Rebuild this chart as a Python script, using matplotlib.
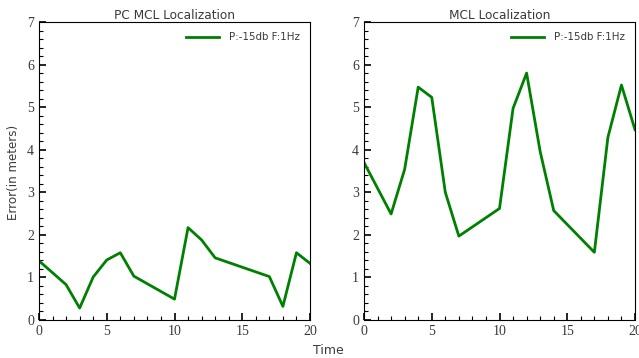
import matplotlib
matplotlib.use("Agg")
import matplotlib.pyplot as plt
from matplotlib.ticker import MultipleLocator

# Data
pc_x = [0, 2, 3, 4, 5, 6, 7, 10, 11, 12, 13, 17, 18, 19, 20]
pc_y = [1.39, 0.83, 0.28, 1.01, 1.41, 1.58, 1.03, 0.49, 2.17, 1.88, 1.46, 1.02, 0.32, 1.58, 1.33]
mcl_x = [0, 2, 3, 4, 5, 6, 7, 10, 11, 12, 13, 14, 17, 18, 19, 20]
mcl_y = [3.70, 2.49, 3.54, 5.47, 5.23, 3.0, 1.97, 2.62, 4.97, 5.80, 3.96, 2.57, 1.59, 4.29, 5.52, 4.47]
titles = ["PC MCL Localization", "MCL Localization"]
legend_label = "P:-15db F:1Hz"
x_ticks = [0, 5, 10, 15, 20]
y_ticks = [0, 1, 2, 3, 4, 5, 6, 7]

fig = plt.figure(figsize=(6.39, 3.58), dpi=100)
ax1 = fig.add_axes([39/639, 1-320/358, 271/639, 298/358])
ax2 = fig.add_axes([364/639, 1-320/358, 271/639, 298/358])

text_col = "#3a3a3a"
for ax, xs, ys, t in [(ax1, pc_x, pc_y, titles[0]), (ax2, mcl_x, mcl_y, titles[1])]:
    ax.plot(xs, ys, color="#008000", lw=2, label=legend_label)
    ax.set_xlim(0, 20)
    ax.set_ylim(0, 7)
    ax.set_xticks(x_ticks)
    ax.set_yticks(y_ticks)
    ax.xaxis.set_minor_locator(MultipleLocator(1))
    ax.yaxis.set_minor_locator(MultipleLocator(0.2))
    ax.tick_params(which="both", direction="in", top=False, right=False,
                   labelcolor=text_col)
    ax.tick_params(which="major", length=5, width=1.2)
    ax.tick_params(which="minor", length=3, width=0.8)
    for lab in ax.get_xticklabels() + ax.get_yticklabels():
        lab.set_family("Liberation Serif")
        lab.set_fontsize(10)
    ax.set_title(t, fontsize=8.7, color=text_col, family="DejaVu Sans", pad=2.5)
    ax.legend(loc="upper right", frameon=False, fontsize=7.4, handlelength=3.3,
              handletextpad=0.9, borderaxespad=0.6, labelcolor=text_col)

fig.text(14/639, 1-172/358, "Error(in meters)", rotation=90, ha="center", va="center",
         fontsize=8.6, color=text_col, family="DejaVu Sans")
fig.text(328/639, 1-350/358, "Time", ha="center", va="center",
         fontsize=9, color=text_col, family="DejaVu Sans")

fig.savefig("out.png", dpi=100)
